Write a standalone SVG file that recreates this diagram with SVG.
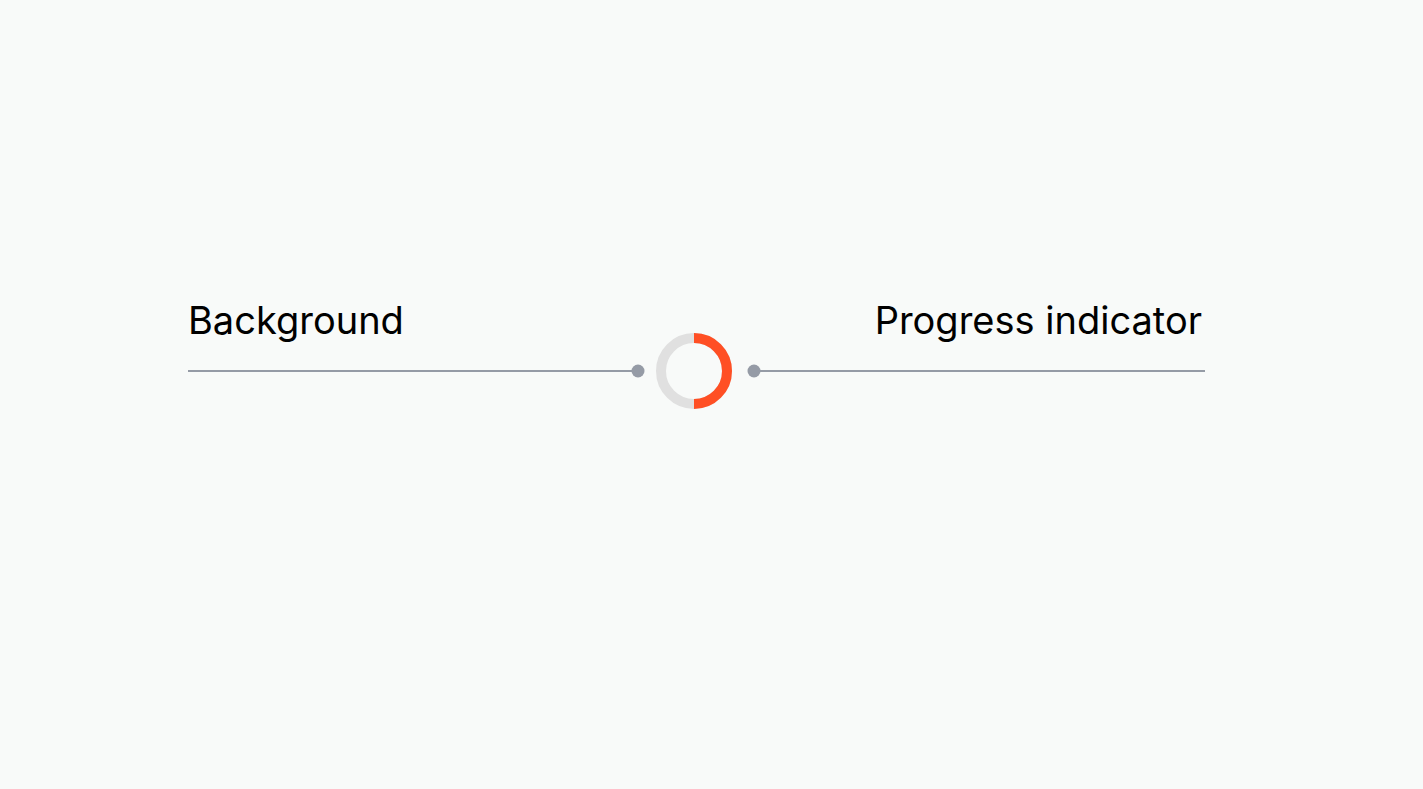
<svg xmlns="http://www.w3.org/2000/svg" width="1423" height="789" viewBox="0 0 1423 789">
  <style>
    .label { font-family: Inter, "Noto Sans", "Liberation Sans", sans-serif; font-size: 38px; fill: #000000; }
    .leader { stroke: #959ba6; stroke-width: 2; fill: none; }
    .pin { fill: #959ba6; }
  </style>
  <rect width="1423" height="789" fill="#f8faf9"/>

  <g id="spinner">
    <circle cx="694" cy="371" r="33" fill="none" stroke="#e0e0e0" stroke-width="10"/>
    <!-- right half of the ring: progress arc -->
    <path d="M694 338 A33 33 0 0 1 694 404" fill="none" stroke="#ff4f24" stroke-width="10"/>
  </g>

  <g id="connectors">
    <line class="leader" x1="188" y1="371" x2="638" y2="371"/>
    <circle class="pin" cx="638" cy="371" r="6.5"/>
    <line class="leader" x1="754" y1="371" x2="1205" y2="371"/>
    <circle class="pin" cx="754" cy="371" r="6.5"/>
  </g>

  <g id="label-background">
    <text class="label" x="188" y="333.5">Background</text>
  </g>

  <g id="label-progress">
    <text class="label" x="1202" y="333.5" text-anchor="end">Progress indicator</text>
  </g>
</svg>
